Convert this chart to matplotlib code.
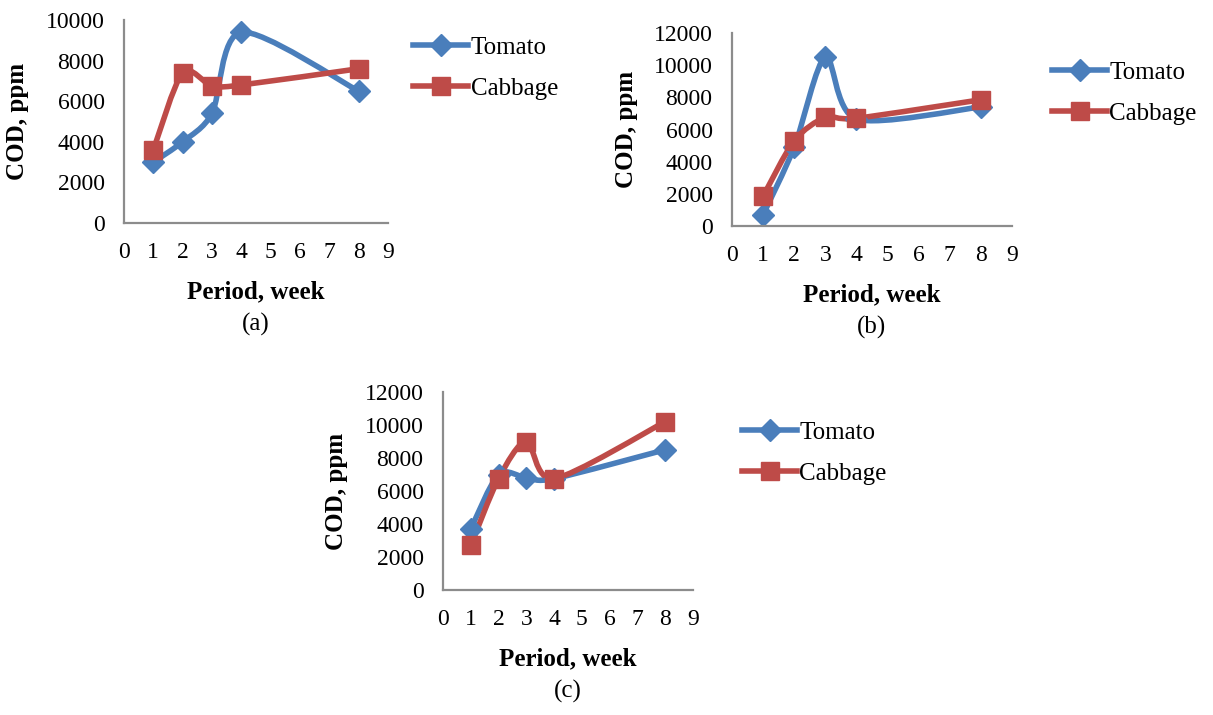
import numpy as np
import matplotlib
matplotlib.use("Agg")
import matplotlib.pyplot as plt
from matplotlib.path import Path
from matplotlib.patches import PathPatch
from matplotlib.lines import Line2D

plt.rcParams['font.family'] = ['Liberation Serif', 'DejaVu Serif']

# data: COD (ppm) over weeks
weeks = [1, 2, 3, 4, 8]

tomato_a = [3000, 4000, 5400, 9400, 6500]
cabbage_a = [3600, 7400, 6750, 6800, 7600]

tomato_b = [700, 4900, 10500, 6650, 7400]
cabbage_b = [1850, 5300, 6750, 6700, 7850]

tomato_c = [3700, 7000, 6800, 6750, 8500]
cabbage_c = [2700, 6750, 9000, 6750, 10200]

series_names = ["Tomato", "Cabbage"]
panel_tags = ["(a)", "(b)", "(c)"]

BLUE = "#4A7EBB"
RED = "#BE4B48"
W, H = 1213, 715
LW = 4.0


def smooth_path(x, y, k=1 / 7.0):
    """bezier path through the points (like excel smoothed lines)"""
    pts = np.column_stack([x, y]).astype(float)
    n = len(pts)
    verts = [pts[0]]
    codes = [Path.MOVETO]
    for i in range(n - 1):
        p0 = pts[i - 1] if i > 0 else pts[i]
        p1 = pts[i]
        p2 = pts[i + 1]
        p3 = pts[i + 2] if i + 2 < n else pts[i + 1]
        c1 = p1 + (p2 - p0) * k
        c2 = p2 - (p3 - p1) * k
        verts += [c1, c2, p2]
        codes += [Path.CURVE4] * 3
    return Path(verts, codes)


def add_series(ax, x, y, color, marker, ms):
    ax.add_patch(PathPatch(smooth_path(x, y), facecolor="none", edgecolor=color,
                           lw=LW, capstyle="round", joinstyle="round"))
    ax.plot(x, y, linestyle="none", marker=marker, ms=ms, color=color,
            markeredgecolor=color)


def px_axes(fig, l, t, r, b):
    return fig.add_axes([l / W, 1 - b / H, (r - l) / W, (b - t) / H])


fig = plt.figure(figsize=(W / 100, H / 100), dpi=100)

panels = [
    ((124, 20, 388, 223), 10000, tomato_a, cabbage_a, (413, 68)),
    ((732, 33, 1012, 226), 12000, tomato_b, cabbage_b, (1052, 93)),
    ((443, 392, 693, 590), 12000, tomato_c, cabbage_c, (742, 453)),
]

for (box, ymax, tom, cab, leg), tag in zip(panels, panel_tags):
    ax = px_axes(fig, *box)
    add_series(ax, weeks, tom, BLUE, "D", 11)
    add_series(ax, weeks, cab, RED, "s", 13)
    ax.set_xlim(0, 9)
    ax.set_ylim(0, ymax)
    ax.set_xticks(range(0, 10))
    ax.set_yticks(range(0, ymax + 1, 2000))
    for s in ["top", "right"]:
        ax.spines[s].set_visible(False)
    for s in ["left", "bottom"]:
        ax.spines[s].set_color("#8c8c8c")
        ax.spines[s].set_linewidth(1.6)
    ax.tick_params(length=0, labelsize=17, pad=14)
    ax.patch.set_alpha(0)

    l, t, r, b = box
    cx = (l + r) / 2
    fig.text((l - 106) / W, 1 - (t + b) / 2 / H, "COD, ppm", rotation=90,
             ha="center", va="center", fontsize=18, fontweight="bold")
    fig.text(cx / W, 1 - (b + 69) / H, "Period, week", ha="center", va="center",
             fontsize=18, fontweight="bold")
    fig.text(cx / W, 1 - (b + 101) / H, tag, ha="center", va="center", fontsize=18)

    handles = [
        Line2D([], [], color=BLUE, lw=LW, marker="D", ms=11),
        Line2D([], [], color=RED, lw=LW, marker="s", ms=13),
    ]
    fig.legend(handles, series_names, loc="center left",
               bbox_to_anchor=(leg[0] / W, 1 - leg[1] / H),
               bbox_transform=fig.transFigure, frameon=False, fontsize=18,
               handlelength=2.2, handletextpad=0.1, labelspacing=0.75,
               borderpad=0, borderaxespad=0, numpoints=1)

fig.savefig("out.png", dpi=100, facecolor="white")
